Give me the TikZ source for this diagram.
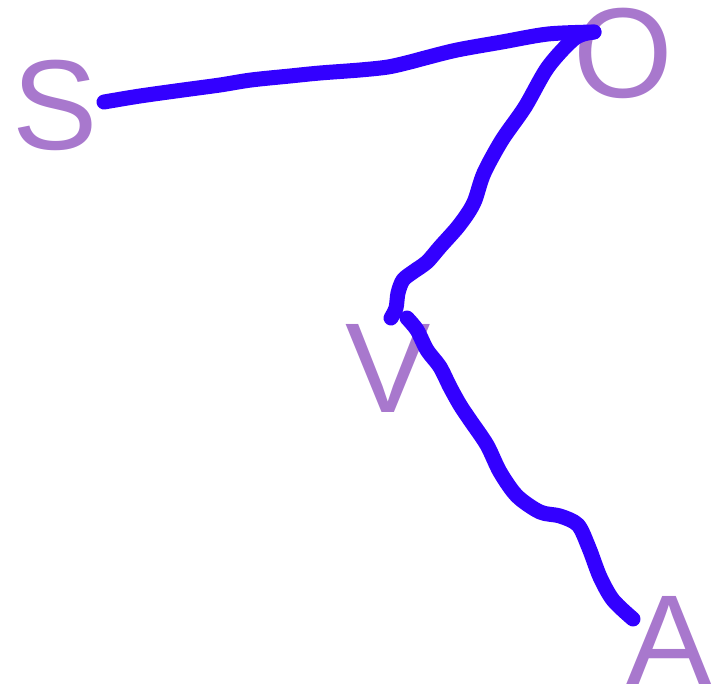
\documentclass[tikz,border=0pt]{standalone}
\usepackage{fontspec}
\setmainfont{Liberation Sans}
\definecolor{letter}{RGB}{168,120,205}
\definecolor{ink}{RGB}{51,0,255}
\begin{document}
\begin{tikzpicture}[x=1pt,y=-1pt,
  lbl/.style={anchor=base,inner sep=0pt,text=letter,font=\fontsize{128}{128}\selectfont},
  stroke/.style={draw=ink,line width=15pt,line cap=round,line join=round}]
\useasboundingbox (0,0) rectangle (717,695);
\node[lbl] (S) at (55,150) {S};
\node[lbl] (O) at (623,98) {O};
\node[lbl] (V) at (388,412) {V};
\node[lbl] (A) at (669,684) {A};
\coordinate (s1) at (104,102);
\coordinate (o1) at (594,32);
\coordinate (v1) at (391,318);
\coordinate (v2) at (407,318);
\coordinate (a1) at (633,619);
\draw[stroke] plot[smooth,tension=0.5] coordinates {(s1) (140,96) (183,90) (220,85) (251,80) (290,76) (320,73) (360,70) (388,67) (410,62) (425,58) (457,50) (502,42) (548,34) (o1)};
\draw[stroke] plot[smooth,tension=0.5] coordinates {(o1) (575,38) (548,67) (525,107) (502,140) (484,173) (475,200) (468,213) (457,228) (440,247) (427,262) (413,272) (403,280) (398,293) (396,308) (v1)};
\draw[stroke] plot[smooth,tension=0.5] coordinates {(v2) (417,330) (427,350) (440,367) (450,387) (460,405) (470,420) (487,445) (500,472) (517,496) (540,512) (560,516) (578,525) (589,548) (600,577) (613,600) (a1)};
\end{tikzpicture}
\end{document}
